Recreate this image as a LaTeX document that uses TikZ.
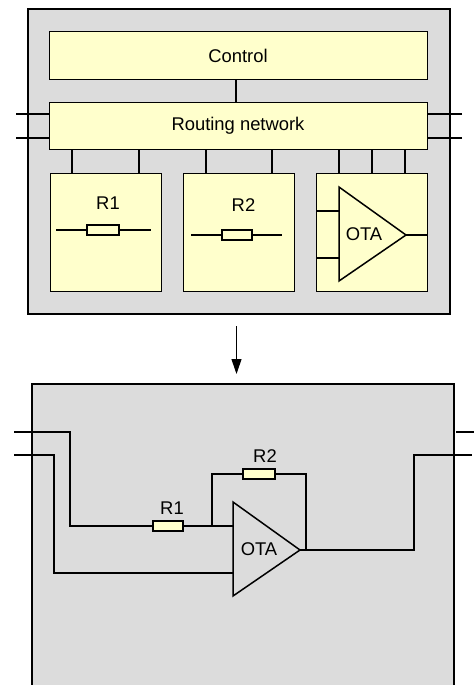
\documentclass[tikz,border=0pt]{standalone}
\usepackage{fontspec}
\setmainfont{Liberation Sans}
\usepackage{tikz}
\usetikzlibrary{arrows.meta}
\definecolor{panelgray}{HTML}{DCDCDC}
\definecolor{blockyellow}{HTML}{FFFFCC}
\tikzset{
  block/.style={draw, fill=blockyellow, line width=1pt, inner sep=0pt},
  tag/.style={inner sep=0pt, font=\fontsize{18.4}{20}\selectfont},
  resbody/.style={draw, fill=blockyellow, line width=1.5pt, inner sep=0pt},
  wire/.style={line width=1.5pt},
}
\begin{document}
\begin{tikzpicture}[x=1pt,y=-1pt]
           \useasboundingbox (0,0) rectangle (474,685);

           % Top panel
           \node[draw, fill=panelgray, line width=1.5pt, inner sep=0pt, minimum width=422pt, minimum height=305pt] (toppanel) at (239,161.5) {};

           % Blocks
           \node[block, minimum width=377.5pt, minimum height=47pt] (control) at (238.5,55.5) {};
           \node[tag] (controltext) at (238,55.5) {Control};
           \node[block, minimum width=377.5pt, minimum height=47pt] (routing) at (238.5,126) {};
           \node[tag] (routingtext) at (238,126) {Routing network};
           \node[block, minimum width=111pt, minimum height=118pt] (boxone) at (105.5,232) {};
           \node[block, minimum width=111pt, minimum height=118pt] (boxtwo) at (239,232) {};
           \node[block, minimum width=111pt, minimum height=118pt] (boxota) at (372,232) {};

           % Control to routing
           \coordinate (tapz) at (236,91);
           \draw[wire] (tapz |- control.south) -- (tapz |- routing.north);

           % Routing to blocks
           \coordinate (tapa) at (72,161);
           \coordinate (tapb) at (139,161);
           \coordinate (tapc) at (206,161);
           \coordinate (tapd) at (272,161);
           \coordinate (tape) at (339,161);
           \coordinate (tapf) at (372,161);
           \coordinate (tapg) at (405,161);
           \draw[wire] (tapa |- routing.south) -- (tapa |- boxone.north);
           \draw[wire] (tapb |- routing.south) -- (tapb |- boxone.north);
           \draw[wire] (tapc |- routing.south) -- (tapc |- boxtwo.north);
           \draw[wire] (tapd |- routing.south) -- (tapd |- boxtwo.north);
           \draw[wire] (tape |- routing.south) -- (tape |- boxota.north);
           \draw[wire] (tapf |- routing.south) -- (tapf |- boxota.north);
           \draw[wire] (tapg |- routing.south) -- (tapg |- boxota.north);

           % Top panel pins
           \coordinate (pinla) at (16,114);
           \coordinate (pinlb) at (16,138);
           \coordinate (pinra) at (462,114);
           \coordinate (pinrb) at (462,138);
           \draw[wire] (pinla) -- (pinla -| routing.west);
           \draw[wire] (pinlb) -- (pinlb -| routing.west);
           \draw[wire] (pinra) -- (pinra -| routing.east);
           \draw[wire] (pinrb) -- (pinrb -| routing.east);

           % R1 block
           \node[tag] (ronetext) at (108,203) {R1};
           \coordinate (ronel) at (56,230);
           \coordinate (roner) at (151,230);
           \node[resbody, minimum width=32pt, minimum height=10pt] (ronebody) at (103,230) {};
           \draw[wire] (ronel) -- (ronebody);
           \draw[wire] (ronebody) -- (roner);

           % R2 block
           \node[tag] (rtwotext) at (243.5,205) {R2};
           \coordinate (rtwol) at (191,235);
           \coordinate (rtwor) at (282,235);
           \node[resbody, minimum width=30pt, minimum height=10pt] (rtwobody) at (237,235) {};
           \draw[wire] (rtwol) -- (rtwobody);
           \draw[wire] (rtwobody) -- (rtwor);

           % OTA block
           \draw[wire, line join=miter] (339,187)--(406,235)--(339,281)--cycle;
           \node[tag] (otatext) at (364,234) {OTA};
           \coordinate (otaina) at (339,211);
           \coordinate (otainb) at (339,258);
           \coordinate (otaout) at (406,235);
           \draw[wire] (boxota.west |- otaina) -- (otaina);
           \draw[wire] (boxota.west |- otainb) -- (otainb);
           \draw[wire] (otaout) -- (boxota.east |- otaout);

           % Arrow between panels
           \coordinate (arrowtop) at (236.5,326);
           \coordinate (arrowend) at (236.5,374);
           \draw[line width=1pt, -{Stealth[length=15pt,width=10pt,inset=0pt]}] (arrowtop) -- (arrowend);

           % Bottom panel
           \fill[panelgray] (32,384) rectangle (454,686);
           \draw[line width=1.5pt] (32,686)--(32,384)--(454,384)--(454,686);

           % Resistors and amplifier
           \node[resbody, minimum width=30pt, minimum height=10pt] (ronepart) at (168,526) {};
           \node[tag] (ronepartlabel) at (172,508) {R1};
           \node[resbody, minimum width=32pt, minimum height=10pt] (rtwopart) at (259,474) {};
           \node[tag] (rtwopartlabel) at (265,456) {R2};
           \draw[wire, line join=miter] (233,502)--(300,550)--(233,596)--cycle;
           \node[tag] (otapartlabel) at (259,549) {OTA};
           \coordinate (otapartina) at (233,526);
           \coordinate (otapartinb) at (233,573);
           \coordinate (otapartout) at (300,550);

           % Wiring
           \coordinate (inla) at (14,432);
           \coordinate (inlb) at (14,455);
           \coordinate (outra) at (456,432);
           \coordinate (outrb) at (472,455);
           \draw[wire] (inla)--(70,432)--(70,526)--(ronepart);
           \draw[wire] (ronepart)--(otapartina);
           \draw[wire] (inlb)--(54,455)--(54,573)--(otapartinb);
           \draw[wire] (212,526)--(212,474)--(rtwopart);
           \draw[wire] (rtwopart)--(306,474)--(306,550);
           \draw[wire] (otapartout)--(414,550)--(414,455)--(outrb);
           \draw[wire] (outra)--(474,432);

\end{tikzpicture}
\end{document}
